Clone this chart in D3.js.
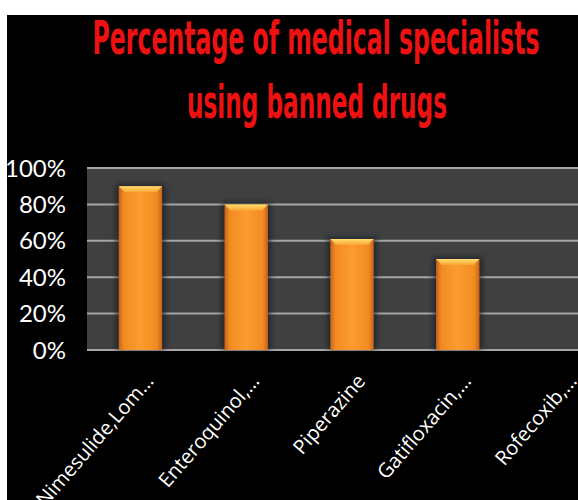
<!DOCTYPE html>
<html><head><meta charset="utf-8">
<script src="https://cdn.jsdelivr.net/npm/d3@7"></script>
<style>html,body{margin:0;padding:0;background:#fff;}svg{display:block;}</style>
</head><body>
<script>
const categories = ["Nimesulide,Lom…", "Enteroquinol,…", "Piperazine", "Gatifloxacin,…", "Rofecoxib,…"];
const values = [0.90, 0.80, 0.61, 0.50, 0];
const yTicks = [0, 0.2, 0.4, 0.6, 0.8, 1.0];
const titleLines = ["Percentage of medical specialists", "using banned drugs"];

const W = 578, H = 500;
const svg = d3.select("body").append("svg").attr("width", W).attr("height", H);
const defs = svg.append("defs");

const g1 = defs.append("linearGradient").attr("id", "barg").attr("x1", 0).attr("x2", 1).attr("y1", 0).attr("y2", 0);
[[0,"#c8631a"],[0.12,"#f28b22"],[0.5,"#fc9c2e"],[0.88,"#f28b22"],[1,"#c8631a"]].forEach(d => g1.append("stop").attr("offset", d[0]).attr("stop-color", d[1]));
const g2 = defs.append("linearGradient").attr("id", "topg").attr("x1", 0).attr("x2", 0).attr("y1", 0).attr("y2", 1);
[[0,"#ffe070"],[1,"#f9a533"]].forEach(d => g2.append("stop").attr("offset", d[0]).attr("stop-color", d[1]));
const blur = defs.append("filter").attr("id", "sh").attr("x", "-30%").attr("y", "-30%").attr("width", "160%").attr("height", "160%");
blur.append("feGaussianBlur").attr("stdDeviation", 2.5);

// black background with white border
svg.append("rect").attr("x", 7).attr("y", 15).attr("width", W - 7).attr("height", H - 15).attr("fill", "#000");

const x = d3.scaleBand().domain(categories).range([87, 617]).paddingInner(0.59).paddingOuter(0.3);
const y = d3.scaleLinear().domain([0, 1]).range([350, 168]);

// plot background
svg.append("rect").attr("x", 87).attr("y", y(1)).attr("width", W - 87).attr("height", y(0) - y(1)).attr("fill", "#404040");

// gridlines
svg.append("g").selectAll("line").data(yTicks).join("line")
  .attr("x1", 87).attr("x2", W).attr("y1", d => y(d)).attr("y2", d => y(d))
  .attr("stroke", "#a6a6a6").attr("stroke-width", 2);

// y axis labels
const yAxis = d3.axisLeft(y).tickValues(yTicks).tickFormat(d3.format(".0%")).tickSize(0).tickPadding(0);
const ya = svg.append("g").attr("transform", "translate(66,0)").call(yAxis);
ya.select(".domain").remove();
ya.selectAll("text").attr("fill", "#fff").attr("font-family", "Lato, sans-serif").attr("font-size", 24).attr("dy", "0.34em");

// bars
const bars = svg.append("g").selectAll("g").data(values.map((v, i) => ({c: categories[i], v}))).join("g");
bars.filter(d => d.v > 0).append("rect")
  .attr("x", d => x(d.c) - 3).attr("y", d => y(d.v) - 2).attr("width", x.bandwidth() + 6).attr("height", d => y(0) - y(d.v) + 2)
  .attr("fill", "#101820").attr("opacity", 0.6).attr("filter", "url(#sh)");
bars.filter(d => d.v > 0).append("rect")
  .attr("x", d => x(d.c)).attr("y", d => y(d.v)).attr("width", x.bandwidth()).attr("height", d => y(0) - y(d.v))
  .attr("fill", "url(#barg)");
bars.filter(d => d.v > 0).append("path")
  .attr("d", d => {
    const x0 = x(d.c), x1 = x0 + x.bandwidth(), t = y(d.v), b = 6;
    return `M${x0},${t}L${x1},${t}L${x1 - b},${t + b}L${x0 + b},${t + b}Z`;
  })
  .attr("fill", "url(#topg)");

// x labels
svg.append("g").selectAll("text").data(categories).join("text")
  .attr("transform", d => `translate(${x(d) + x.bandwidth() / 2 + 3},${372}) rotate(-49)`)
  .attr("text-anchor", "end").attr("dy", "0.75em")
  .attr("fill", "#fff").attr("font-family", "'Open Sans', sans-serif").attr("font-size", 20)
  .text(d => d);

// title
svg.append("g").selectAll("text").data(titleLines).join("text")
  .attr("x", (d, i) => i === 0 ? 316 : 317).attr("y", (d, i) => i === 0 ? 54 : 118)
  .attr("text-anchor", "middle")
  .attr("textLength", (d, i) => i === 0 ? 447 : 260).attr("lengthAdjust", "spacingAndGlyphs")
  .attr("fill", "#ee1111").attr("font-family", "'Liberation Sans Narrow', 'DejaVu Sans Condensed', sans-serif")
  .attr("font-weight", "bold").attr("font-size", 46)
  .text(d => d);
</script>
</body></html>
